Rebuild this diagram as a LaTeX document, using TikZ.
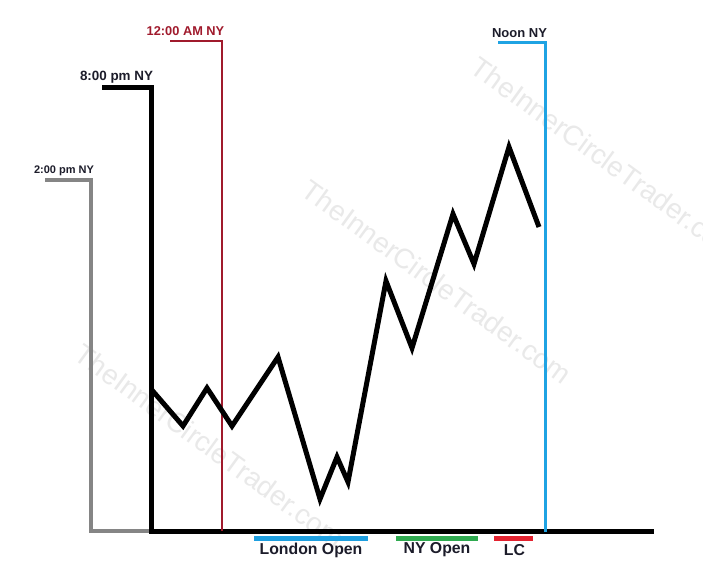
\documentclass[tikz,border=0pt]{standalone}
\usepackage{fontspec}
\setmainfont{Liberation Sans}
\definecolor{inkdark}{HTML}{1C1C2A}
\definecolor{amred}{HTML}{A01A2C}
\definecolor{noonblue}{HTML}{1FA3E3}
\definecolor{pmgray}{HTML}{858585}
\definecolor{lonblue}{HTML}{1E9FE0}
\definecolor{nygreen}{HTML}{2FAA50}
\definecolor{lcred}{HTML}{E3222F}
\definecolor{wm}{HTML}{E9E9E9}
\begin{document}
\begin{tikzpicture}[x=1pt,y=-1pt,
  lbl/.style={font=\bfseries\fontsize{#1}{#1}\selectfont, text=inkdark, inner sep=0pt},
  wmark/.style={font=\fontsize{28}{28}\selectfont, text=wm, rotate=-36, inner sep=0pt},
  bar/.style={line width=5pt, line cap=butt},
  sess/.style={line width=#1, line join=miter, line cap=rect}]
\useasboundingbox[fill=white] (0,0) rectangle (703,581);
% watermarks
\node[wmark] (wm1) at (437,282) {TheInnerCircleTrader.com};
\node[wmark] (wm2) at (606,159) {TheInnerCircleTrader.com};
\node[wmark] (wm3) at (210,446) {TheInnerCircleTrader.com};
% session markers
\coordinate (g0) at (47,180);
\coordinate (g1) at (91,180);
\coordinate (g2) at (91,531);
\coordinate (g3) at (151,531);
\draw[sess=4pt, pmgray] (g0) -- (g1) -- (g2) -- (g3);
\coordinate (b0) at (104,87);
\coordinate (b1) at (151,87);
\coordinate (b2) at (151,531);
\coordinate (ax) at (651,531);
\draw[sess=5pt, black] (b0) -- (b1) -- (b2) -- (ax);
\coordinate (r0) at (171,41);
\coordinate (r1) at (222,41);
\coordinate (r2) at (222,530);
\draw[sess=2.6pt, amred] (r0) -- (r1) -- (r2);
\coordinate (n0) at (499,42);
\coordinate (n1) at (545,42);
\coordinate (n2) at (545,530);
\draw[sess=3pt, noonblue] (n0) -- (n1) -- (n2);
% labels
\node[lbl=11] (l2pm) at (64,171) {2:00 pm NY};
\node[lbl=13.4] (l8pm) at (116.5,77) {8:00 pm NY};
\node[lbl=12.8, text=amred] (l12am) at (185.5,31) {12:00 AM NY};
\node[lbl=13] (lnoon) at (519.5,33) {Noon NY};
% price path
\draw[line width=5pt, line join=miter, black]
  (151,389) -- (183,426) -- (207,388) -- (232,426) -- (278,357)
  -- (320,499) -- (337,457) -- (348,482) -- (386,281) -- (412,348)
  -- (453,214) -- (474,264) -- (509,147) -- (539,227);
% sessions
\coordinate (lo0) at (254,538); \coordinate (lo1) at (368,538);
\coordinate (ny0) at (396,538); \coordinate (ny1) at (478,538);
\coordinate (lc0) at (494,538); \coordinate (lc1) at (533,538);
\draw[bar, lonblue] (lo0) -- (lo1);
\draw[bar, nygreen] (ny0) -- (ny1);
\draw[bar, lcred] (lc0) -- (lc1);
\node[lbl=15.8] (llon) at (311,550) {London Open};
\node[lbl=15.8] (lny) at (437,550) {NY Open};
\node[lbl=15.8] (llc) at (514.5,550) {LC};
\end{tikzpicture}
\end{document}
